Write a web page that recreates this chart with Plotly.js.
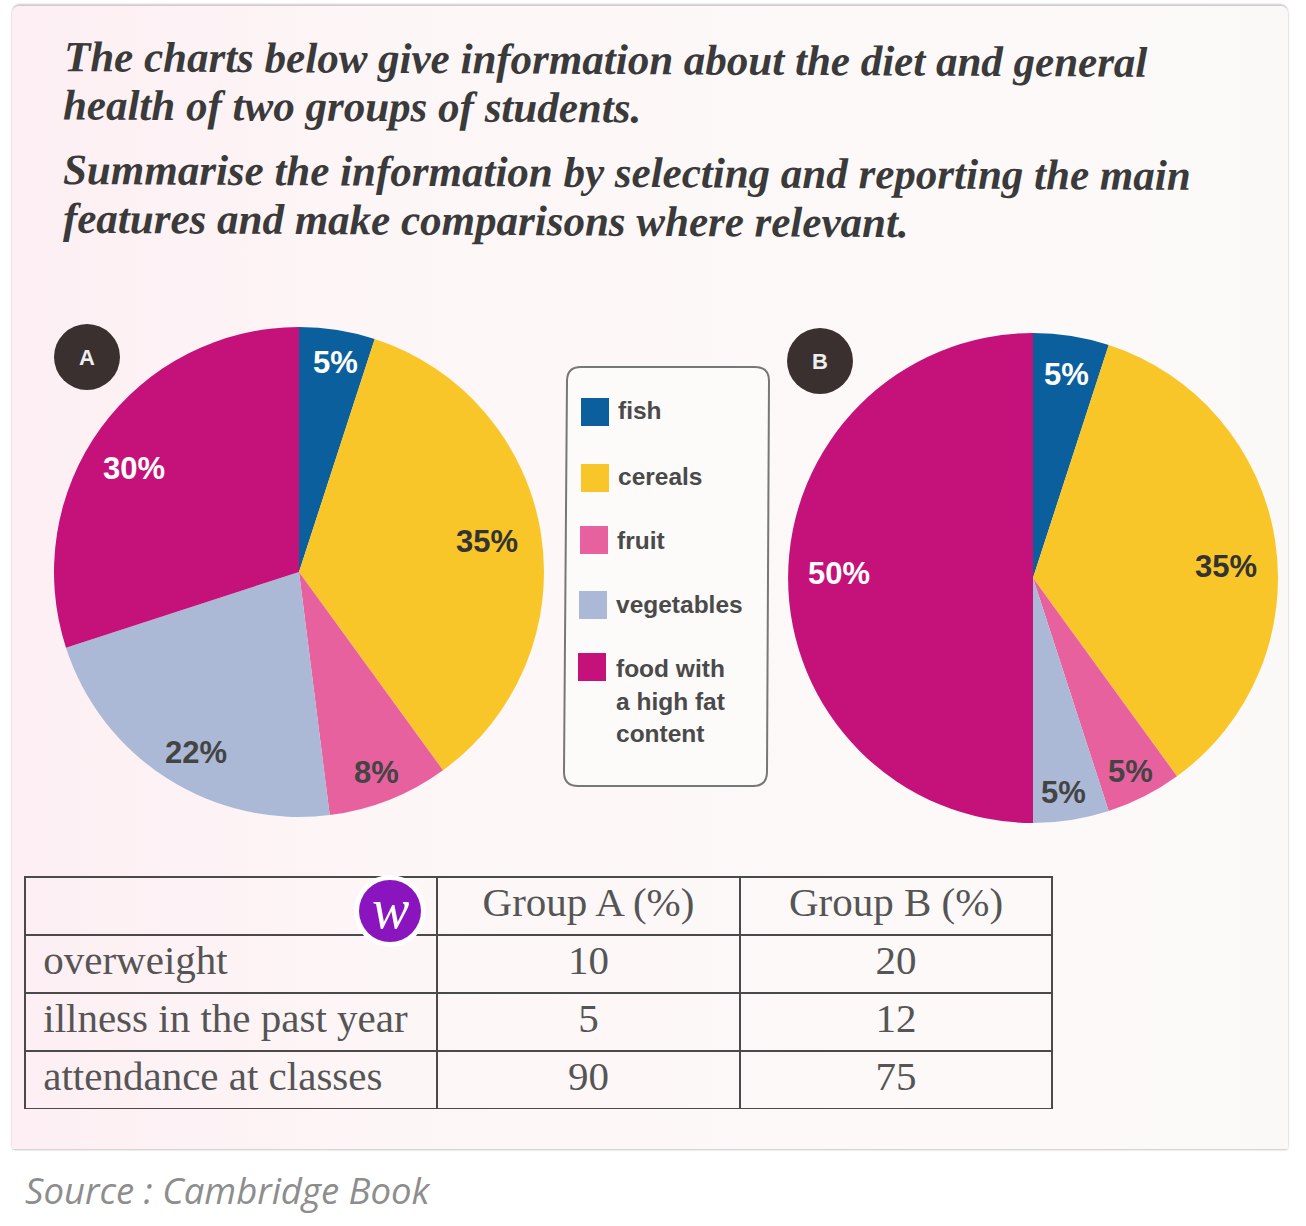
<!DOCTYPE html>
<html><head><meta charset="utf-8">
<script src="https://cdn.plot.ly/plotly-3.0.1.min.js"></script>
<style>
html,body{margin:0;padding:0;background:#fff;width:1306px;height:1226px;overflow:hidden}
#card{position:absolute;left:12px;top:6px;width:1276px;height:1143px;border-radius:8px 8px 2px 2px;
background:linear-gradient(90deg,#fdeff3 0%,#fdf6f7 30%,#fdf9f9 70%,#fbf9f8 100%);
box-shadow:0 -2px 2px #cfcaca,0 1px 2px #c9c4c4}
#chart{position:absolute;left:0;top:0;width:1306px;height:1226px}
</style></head><body>
<div id="card"></div><div id="chart"></div>
<script>
const categories = ["fish","cereals","fruit","vegetables","food with a high fat content"];
const groupA = [5,35,8,22,30];
const groupB = [5,35,5,5,50];
const colors = ["#0b5f9c","#f9c629","#e8619f","#abb9d6","#c4127a"];
const tableHeader = ["","Group A (%)","Group B (%)"];
const rowLabels = ["overweight","illness in the past year","attendance at classes"];
const tableA = [10,5,90];
const tableB = [20,12,75];
const titleLines = ["The charts below give information about the diet and general",
  "health of two groups of students.",
  "Summarise the information by selecting and reporting the main",
  "features and make comparisons where relevant."];
const sourceText = "Source : Cambridge Book";

const W=1306,H=1226;
const px=x=>x/W, py=y=>1-y/H;
const pie=(vals,x0,x1,y0,y1,name)=>({type:"pie",name,labels:categories,values:vals,sort:false,direction:"clockwise",rotation:0,
  textinfo:"none",hoverinfo:"label+percent",marker:{colors,line:{width:0}},
  domain:{x:[px(x0),px(x1)],y:[py(y1),py(y0)]},automargin:false,showlegend:false});

const rowCells=rowLabels.map(s=>"\u00a0"+s.replace(/ /g,"\u00a0"));
const table={type:"table",domain:{x:[px(25),px(1052)],y:[py(1110),py(877)]},columnwidth:[412,303,312],
  header:{values:tableHeader,height:58,align:"center",fill:{color:"rgba(0,0,0,0)"},line:{color:"#4a4a4a",width:2},
    font:{family:"Liberation Serif",size:41,color:"#555"}},
  cells:{values:[rowCells,tableA,tableB],height:58,align:["left","center","center"],fill:{color:"rgba(0,0,0,0)"},line:{color:"#4a4a4a",width:2},
    font:{family:"Liberation Serif",size:41,color:"#555"}}};

const ann=[];
const T=(t,x,y,o={})=>ann.push(Object.assign({text:t,xref:"paper",yref:"paper",x:px(x),y:py(y),showarrow:false,xanchor:"center",yanchor:"middle",
  font:{family:"Liberation Sans",size:31,color:"#333"}},o));
const titleFont={family:"Liberation Serif",size:43,color:"#3a3a3a"};
[[62,59],[61,106],[61,172],[61,220]].forEach((p,i)=>T("<b><i>"+titleLines[i]+"</i></b>",p[0],p[1],{xanchor:"left",font:titleFont,textangle:0.3}));

const lab=(v,x,y,c)=>T("<b>"+v+"%</b>",x,y,{font:{family:"Liberation Sans",size:31,color:c}});
const posA=[[335,362,"#fff"],[487,541,"#333"],[376,772,"#444"],[196,752,"#444"],[134,468,"#fff"]];
const posB=[[1066,374,"#fff"],[1226,567,"#333"],[1130,771,"#444"],[1063,792,"#444"],[839,573,"#fff"]];
posA.forEach((p,i)=>lab(groupA[i],p[0],p[1],p[2]));
posB.forEach((p,i)=>lab(groupB[i],p[0],p[1],p[2]));

T("<b>A</b>",87,357,{font:{family:"Liberation Sans",size:22,color:"#eee"}});
T("<b>B</b>",820,361,{font:{family:"Liberation Sans",size:22,color:"#eee"}});

const legendFont={family:"Liberation Sans",size:24.5,color:"#4a4a4a"};
const legY=[411,476,540,605];
const legX=[616,616,615,614];
categories.slice(0,4).forEach((c,i)=>T("<b>"+c+"</b>",legX[i],legY[i],{xanchor:"left",font:legendFont}));
["food with","a high fat","content"].forEach((t,i)=>T("<b>"+t+"</b>",614,[668,701,733][i],{xanchor:"left",font:legendFont}));

T("<i>"+sourceText+"</i>",23,1190,{xanchor:"left",font:{family:"Open Sans",size:36.5,color:"#8d8d8d"}});
T("<i>w</i>",390,909,{font:{family:"Liberation Serif",size:56,color:"#fff"}});

const shapes=[];
const circ=(cx,cy,r,fill,line)=>shapes.push({type:"circle",xref:"paper",yref:"paper",x0:px(cx-r),x1:px(cx+r),y0:py(cy+r),y1:py(cy-r),
  fillcolor:fill,line:line||{width:0},layer:"above"});
const rect=(x0,y0,x1,y1,fill)=>shapes.push({type:"rect",xref:"paper",yref:"paper",x0:px(x0),x1:px(x1),y0:py(y1),y1:py(y0),fillcolor:fill,line:{width:0},layer:"below"});
circ(87,357,33,"#3b3030");
circ(820,361,33,"#3b3030");
circ(390,911,36,"#ffffff");
circ(390,911,31,"#8a14be");
const R=14,bx0=564,bx1=769,by0=367,by1=786;
const P=(x,y)=>px(x).toFixed(5)+","+py(y).toFixed(5);
shapes.push({type:"path",xref:"paper",yref:"paper",layer:"below",fillcolor:"#fdfafa",line:{color:"#777",width:2},
  path:`M ${P(bx0+R+3,by0)} L ${P(bx1-R,by0)} Q ${P(bx1,by0)} ${P(bx1,by0+R)} L ${P(bx1-2,by1-R)} Q ${P(bx1-2,by1)} ${P(bx1-R-2,by1)} L ${P(bx0+R,by1)} Q ${P(bx0,by1)} ${P(bx0,by1-R)} L ${P(bx0+3,by0+R)} Q ${P(bx0+3,by0)} ${P(bx0+R+3,by0)} Z`});
const sw=[[581,398],[581,464],[580,526],[579,591],[578,653]];
sw.forEach((s,i)=>rect(s[0],s[1],s[0]+28,s[1]+28,colors[i]));

Plotly.newPlot("chart",[pie(groupA,54,544,327,817,"A"),pie(groupB,788,1278,333,823,"B"),table],
  {width:W,height:H,margin:{l:0,r:0,t:0,b:0},paper_bgcolor:"rgba(0,0,0,0)",plot_bgcolor:"rgba(0,0,0,0)",annotations:ann,shapes},
  {displayModeBar:false,responsive:false});
</script></body></html>
